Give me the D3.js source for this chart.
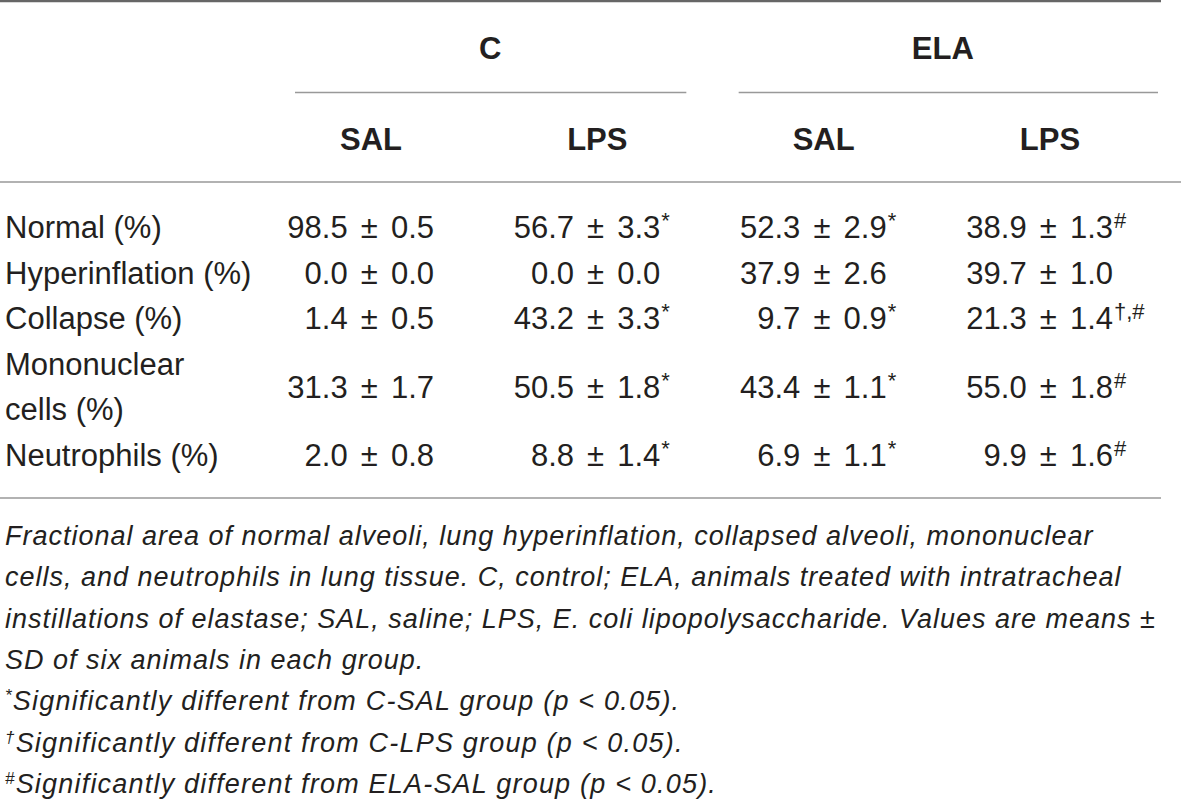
<!DOCTYPE html>
<html>
<head>
<meta charset="utf-8">
<script src="https://cdn.jsdelivr.net/npm/d3@7"></script>
<style>
  html, body { margin: 0; padding: 0; background: #fff; }
  svg { display: block; }
  text { font-family: "Liberation Sans", Arial, Helvetica, sans-serif; fill: #231f20; }
</style>
</head>
<body>
<svg id="chart" width="1181" height="807"></svg>
<script>
// ---- data ----
const groups = ["C", "ELA"];
const treatments = ["SAL", "LPS"];
const columns = ["C-SAL", "C-LPS", "ELA-SAL", "ELA-LPS"];
const rowLabels = [["Normal (%)"], ["Hyperinflation (%)"], ["Collapse (%)"], ["Mononuclear", "cells (%)"], ["Neutrophils (%)"]];
// means and SDs per row, columns in the order of `columns`
const means = [
  [98.5, 56.7, 52.3, 38.9],
  [0.0, 0.0, 37.9, 39.7],
  [1.4, 43.2, 9.7, 21.3],
  [31.3, 50.5, 43.4, 55.0],
  [2.0, 8.8, 6.9, 9.9]
];
const sds = [
  [0.5, 3.3, 2.9, 1.3],
  [0.0, 0.0, 2.6, 1.0],
  [0.5, 3.3, 0.9, 1.4],
  [1.7, 1.8, 1.1, 1.8],
  [0.8, 1.4, 1.1, 1.6]
];
const marks = [
  ["", "*", "*", "#"],
  ["", "", "", ""],
  ["", "*", "*", "†,#"],
  ["", "*", "*", "#"],
  ["", "*", "*", "#"]
];
const noteLines = [
  "Fractional area of normal alveoli, lung hyperinflation, collapsed alveoli, mononuclear",
  "cells, and neutrophils in lung tissue. C, control; ELA, animals treated with intratracheal",
  "instillations of elastase; SAL, saline; LPS, E. coli lipopolysaccharide. Values are means ±",
  "SD of six animals in each group."
];
const sigNotes = [
  ["*", "Significantly different from C-SAL group (p < 0.05)."],
  ["†", "Significantly different from C-LPS group (p < 0.05)."],
  ["#", "Significantly different from ELA-SAL group (p < 0.05)."]
];

// ---- layout ----
const svg = d3.select("#chart");
const W = 1181;
const fs = 31, fsNote = 27;

// column right edges
const x = d3.scalePoint().domain(columns).range([434, 1113]);
const headOffset = -63;

// rows: cumulative line positions
const lineH = 45.6;
let lineIdx = 0;
const rowInfo = rowLabels.map(lbl => {
  const start = lineIdx;
  lineIdx += lbl.length;
  return { start, n: lbl.length };
});
const yLine = d3.scaleLinear().domain([0, 1]).range([238, 238 + lineH]);

// rules
svg.append("line").attr("x1", 0).attr("x2", 1161).attr("y1", 1).attr("y2", 1)
  .attr("stroke", "#666").attr("stroke-width", 2.5);
svg.append("line").attr("x1", 0).attr("x2", W).attr("y1", 182).attr("y2", 182)
  .attr("stroke", "#999").attr("stroke-width", 1.5);
svg.append("line").attr("x1", 0).attr("x2", 1161).attr("y1", 498).attr("y2", 498)
  .attr("stroke", "#999").attr("stroke-width", 1.5);

// group headers
groups.forEach(g => {
  const cols = columns.filter(c => c.startsWith(g + "-"));
  const c0 = x(cols[0]) + headOffset, c1 = x(cols[cols.length - 1]) + headOffset;
  svg.append("text").attr("x", (c0 + c1) / 2 + 6).attr("y", 59)
    .attr("text-anchor", "middle").attr("font-weight", "bold").attr("font-size", fs)
    .text(g);
  const lx0 = x(cols[0]) - (g === "C" ? 139 : 148);
  const lx1 = x(cols[cols.length - 1]) + (g === "C" ? 26 : 45);
  svg.append("line").attr("x1", lx0).attr("x2", lx1).attr("y1", 92.5).attr("y2", 92.5)
    .attr("stroke", "#999").attr("stroke-width", 1.5);
});

// sub headers
columns.forEach(c => {
  const t = c.split("-")[1];
  svg.append("text").attr("x", x(c) + headOffset).attr("y", 150)
    .attr("text-anchor", "middle").attr("font-weight", "bold").attr("font-size", fs)
    .text(t);
});

// rows
rowLabels.forEach((lbl, i) => {
  const info = rowInfo[i];
  lbl.forEach((s, k) => {
    svg.append("text").attr("x", 5).attr("y", yLine(info.start + k))
      .attr("font-size", fs).text(s);
  });
  const yv = (yLine(info.start) + yLine(info.start + info.n - 1)) / 2;
  columns.forEach((c, j) => {
    svg.append("text").attr("x", x(c)).attr("y", yv)
      .attr("text-anchor", "end").attr("font-size", fs).attr("word-spacing", 4.5)
      .text(d3.format(".1f")(means[i][j]) + " ± " + d3.format(".1f")(sds[i][j]));
    if (marks[i][j]) {
      svg.append("text").attr("x", x(c) + 1).attr("y", yv - 10)
        .attr("font-size", 22).text(marks[i][j]);
    }
  });
});

// notes
const yNote = d3.scaleLinear().domain([0, 1]).range([545, 586.3]);
noteLines.forEach((s, i) => {
  svg.append("text").attr("x", 5).attr("y", yNote(i))
    .attr("font-size", fsNote).attr("font-style", "italic").attr("letter-spacing", 1.0).text(s);
});
sigNotes.forEach((d, i) => {
  const t = svg.append("text").attr("x", 5).attr("y", yNote(noteLines.length + i))
    .attr("font-size", fsNote).attr("font-style", "italic").attr("letter-spacing", 1.2);
  t.append("tspan").attr("font-size", 17).attr("dy", -9).text(d[0]);
  t.append("tspan").attr("dy", 9).text(d[1]);
});
</script>
</body>
</html>
